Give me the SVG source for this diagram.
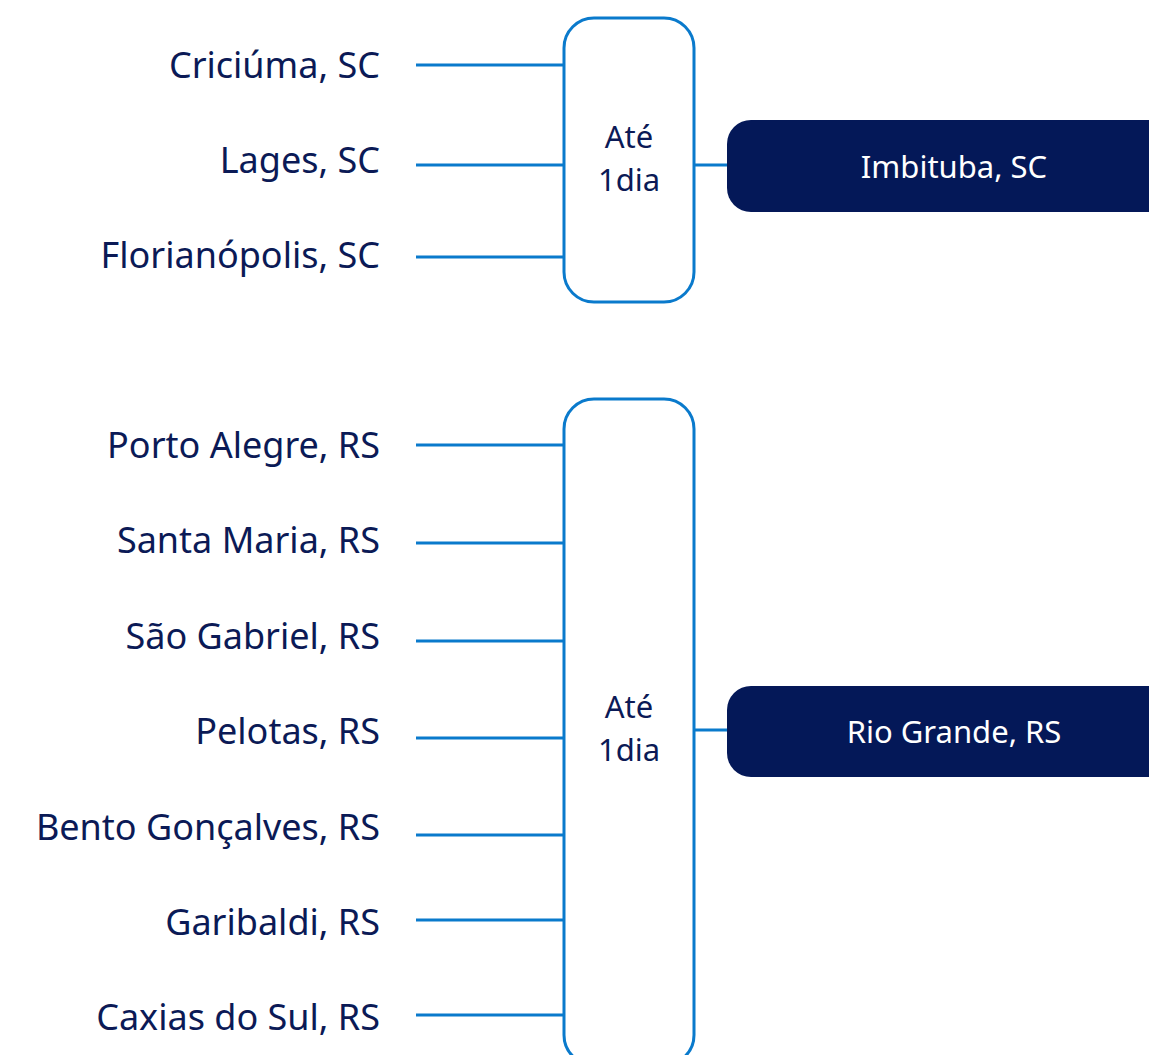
<svg xmlns="http://www.w3.org/2000/svg" width="1149" height="1055" viewBox="0 0 1149 1055">
<style>
.lbl{font-family:"Noto Sans","Open Sans",sans-serif;font-size:36px;fill:#0b1a56;text-anchor:end}
.mid{font-family:"Noto Sans","Open Sans",sans-serif;font-size:31px;fill:#0b1a56;text-anchor:middle}
.dst{font-family:"Noto Sans","Open Sans",sans-serif;font-size:31px;fill:#ffffff;text-anchor:middle}
.ln{stroke:#0a7acc;stroke-width:3;fill:none}
.hub{stroke:#0a7acc;stroke-width:3;fill:#ffffff}
.dark{fill:#041858}
</style>
<rect width="1149" height="1055" fill="#ffffff"/>
<g id="connectors">
<line class="ln" x1="416" y1="65" x2="564" y2="65"/>
<line class="ln" x1="416" y1="165" x2="564" y2="165"/>
<line class="ln" x1="416" y1="257" x2="564" y2="257"/>
<line class="ln" x1="694" y1="165" x2="728" y2="165"/>
<line class="ln" x1="416" y1="445" x2="564" y2="445"/>
<line class="ln" x1="416" y1="543" x2="564" y2="543"/>
<line class="ln" x1="416" y1="641" x2="564" y2="641"/>
<line class="ln" x1="416" y1="738" x2="564" y2="738"/>
<line class="ln" x1="416" y1="835" x2="564" y2="835"/>
<line class="ln" x1="416" y1="920" x2="564" y2="920"/>
<line class="ln" x1="416" y1="1015" x2="564" y2="1015"/>
<line class="ln" x1="694" y1="730" x2="728" y2="730"/>
</g>
<g id="criciuma"><text class="lbl" x="380" y="78">Criciúma, SC</text></g>
<g id="lages"><text class="lbl" x="380" y="173">Lages, SC</text></g>
<g id="florianopolis"><text class="lbl" x="380" y="268">Florianópolis, SC</text></g>
<g id="hub-sc">
<rect class="hub" x="564" y="18" width="130" height="284" rx="30"/>
<text class="mid" x="629" y="148">Até</text>
<text class="mid" x="629" y="191">1dia</text>
</g>
<g id="imbituba">
<rect class="dark" x="727" y="120" width="460" height="92" rx="24"/>
<text class="dst" x="954" y="178">Imbituba, SC</text>
</g>
<g id="porto-alegre"><text class="lbl" x="380" y="458">Porto Alegre, RS</text></g>
<g id="santa-maria"><text class="lbl" x="380" y="553">Santa Maria, RS</text></g>
<g id="sao-gabriel"><text class="lbl" x="380" y="649">São Gabriel, RS</text></g>
<g id="pelotas"><text class="lbl" x="380" y="744">Pelotas, RS</text></g>
<g id="bento"><text class="lbl" x="380" y="840">Bento Gonçalves, RS</text></g>
<g id="garibaldi"><text class="lbl" x="380" y="935">Garibaldi, RS</text></g>
<g id="caxias"><text class="lbl" x="380" y="1030">Caxias do Sul, RS</text></g>
<g id="hub-rs">
<rect class="hub" x="564" y="399" width="130" height="666" rx="30"/>
<text class="mid" x="629" y="718">Até</text>
<text class="mid" x="629" y="761">1dia</text>
</g>
<g id="rio-grande">
<rect class="dark" x="727" y="686" width="460" height="91" rx="24"/>
<text class="dst" x="954" y="743">Rio Grande, RS</text>
</g>
</svg>
